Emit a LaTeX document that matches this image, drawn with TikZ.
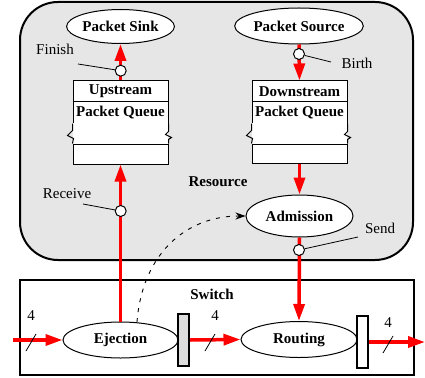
\documentclass[tikz,border=0pt]{standalone}
\usepackage{fontspec}
\setmainfont{Liberation Serif}
\usetikzlibrary{shapes.geometric,arrows.meta}
\definecolor{resgray}{HTML}{E6E6E6}
\definecolor{reggray}{HTML}{DDDDDD}
\tikzset{
  lbl/.style={font=\fontsize{15}{17}\selectfont\bfseries},
  plain/.style={font=\fontsize{15}{17}\selectfont, inner sep=0pt},
  oval/.style={ellipse, draw, line width=1pt, fill=white, inner sep=0pt, lbl},
  qrow/.style={rectangle, draw, line width=1pt, fill=white, minimum width=95pt, minimum height=21pt, inner sep=0pt, lbl},
  qline/.style={line width=1pt},
  flow/.style={red, line width=3.5pt, -{Triangle[length=17pt,width=11pt]}},
  flowplain/.style={red, line width=3.5pt},
  evt/.style={circle, draw, line width=1pt, fill=white, minimum size=11pt, inner sep=0pt},
  lead/.style={line width=0.8pt},
  reg/.style={rectangle, draw, line width=2pt, minimum width=11pt, minimum height=52pt, inner sep=0pt},
  bus/.style={line width=0.8pt},
}
\begin{document}
\begin{tikzpicture}[x=1pt,y=-1pt]
\useasboundingbox (0,0) rectangle (425,377);
% Resource box
\draw[line width=2pt, fill=resgray, rounded corners=38pt] (20,2) rectangle (413,260);
\node[lbl, inner sep=0pt] (reslbl) at (218,182) {Resource};
% Switch box
\draw[line width=2pt, fill=white] (20,280) rectangle (414,375);
\node[lbl, inner sep=0pt] (swlbl) at (212,294) {Switch};

% Nodes
\node[oval, minimum width=105pt, minimum height=34pt] (sink) at (120.5,26.5) {Packet Sink};
\node[oval, minimum width=106pt, minimum height=36pt] (source) at (299,26) {Packet Source};

% Upstream queue
\node[qrow] (uq1) at (120.5,91.5) {Upstream};
\node[qrow] (uq2) at (120.5,112.5) {Packet Queue};
\node[qrow, minimum height=20pt] (uqb) at (120.5,154) {};
\fill[white] (73,123) rectangle (168,144);
\draw[qline] (uq2.south west) -- ++(0,7) -- ++(-5,5) -- ++(6,3) -- (uqb.north west);
\draw[qline] (uq2.south east) -- ++(0,8) -- ++(-3,3) -- ++(6,3) -- ++(-3,2) -- (uqb.north east);

% Downstream queue
\node[qrow] (dq1) at (299.5,91.5) {Downstream};
\node[qrow] (dq2) at (299.5,112.5) {Packet Queue};
\node[qrow, minimum height=19pt] (dqb) at (299.5,153.5) {};
\fill[white] (252,123) rectangle (347,144);
\draw[qline] (dq2.south west) -- ++(0,7) -- ++(-5,5) -- ++(6,3) -- (dqb.north west);
\draw[qline] (dq2.south east) -- ++(0,8) -- ++(-3,3) -- ++(6,3) -- ++(-3,2) -- (dqb.north east);

\node[oval, minimum width=107pt, minimum height=42pt] (adm) at (299.5,216) {Admission};
\node[oval, minimum width=116pt, minimum height=36pt] (rout) at (299,339.5) {Routing};
\node[oval, minimum width=115pt, minimum height=36pt] (ejec) at (120.5,340) {Ejection};

\node[reg, fill=reggray] (reg1) at (183.5,340) {};
\node[reg, fill=white] (reg2) at (362.5,342) {};

% Red flows in the resource
\draw[flow] (uq1.north) -- (sink.south);
\draw[flow] (source.south) -- (dq1.north);
\draw[flow] (dqb.south) -- (adm.north);
\draw[flow] (adm.south) -- (rout.north);
\draw[flow] (ejec.north) -- (uqb.south);

% Red flows in the switch
\coordinate (inS) at (13,340);
\coordinate (outE) at (425,342);
\draw[flow] (inS) -- (ejec.west);
\draw[flow] (reg1.east |- ejec.east) -- (rout.west);
\draw[flow] (reg2.east) -- (outE);

% Bus width marks
\coordinate (b1a) at (26,351); \coordinate (b1b) at (36,334);
\coordinate (b2a) at (205,351); \coordinate (b2b) at (215,334);
\coordinate (b3a) at (383,353); \coordinate (b3b) at (393,336);
\draw[bus] (b1a) -- (b1b);
\draw[bus] (b2a) -- (b2b);
\draw[bus] (b3a) -- (b3b);
\node[plain] (n1) at (31,316) {4};
\node[plain] (n2) at (215,316) {4};
\node[plain] (n3) at (388,323) {4};

% Event circles
\node[evt] (finish) at (120.7,70.7) {};
\node[evt] (birth) at (299,54) {};
\node[evt] (receive) at (120.7,211) {};
\node[evt] (send) at (299,250) {};

\node[plain] (finishl) at (55,49) {Finish};
\node[plain] (birthl) at (357,63) {Birth};
\node[plain] (receivel) at (67,194) {Receive};
\node[plain] (sendl) at (380,228) {Send};
\coordinate (fl) at (78,64);
\coordinate (bl) at (331,62);
\coordinate (rl) at (83,204);
\coordinate (sl) at (358,237);
\draw[lead] (fl) -- (finish);
\draw[lead] (bl) -- (birth);
\draw[lead] (rl) -- (receive);
\draw[lead] (sl) -- (send);

% Dashed control path
\draw[line width=0.9pt, dash pattern=on 4pt off 6pt, -{Stealth[length=10pt,width=7pt]}]
  (137,322) .. controls (142,255) and (185,216) .. (adm.west);
\end{tikzpicture}
\end{document}
